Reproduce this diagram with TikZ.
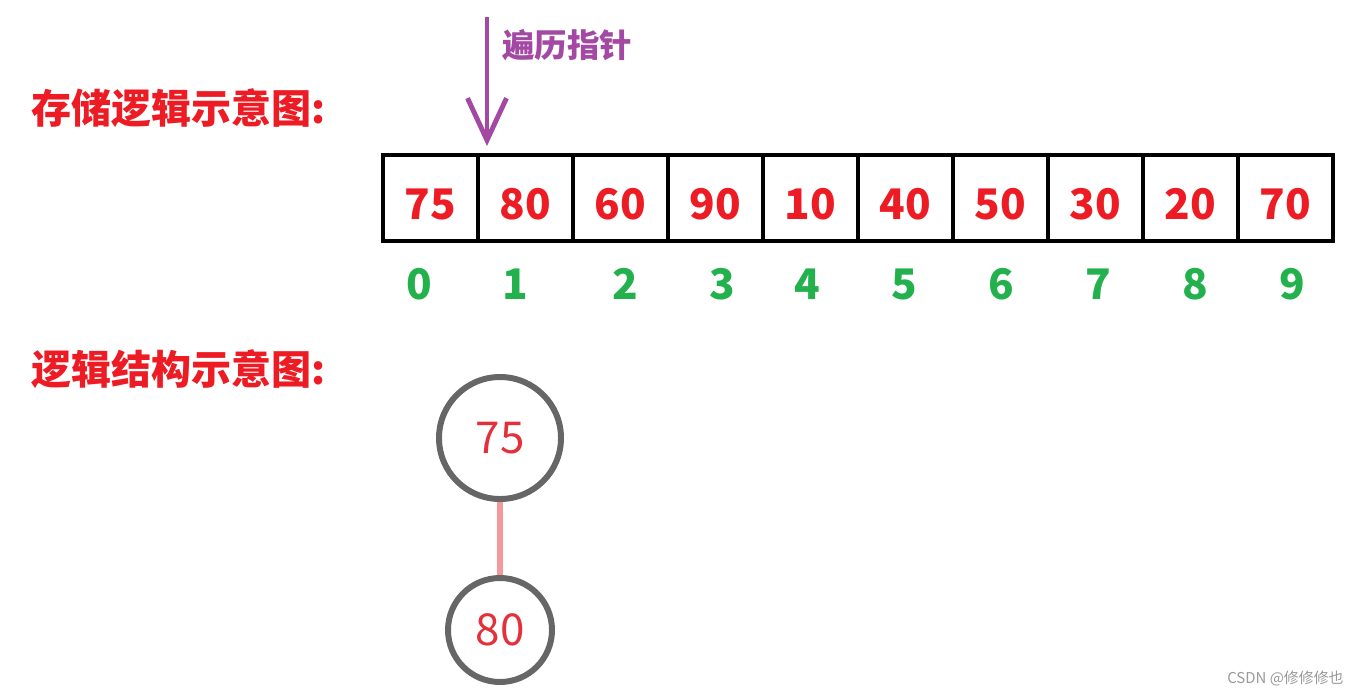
\documentclass[tikz,border=0pt]{standalone}
\usepackage{fontspec}
\setmainfont{Noto Sans CJK SC}
\usepackage{tikz}
\usetikzlibrary{positioning,arrows.meta}

\definecolor{hdred}{HTML}{ED1C24}
\definecolor{idxgreen}{HTML}{22B14C}
\definecolor{ptrpurple}{HTML}{A349A4}
\definecolor{ringgray}{HTML}{666666}
\definecolor{treered}{HTML}{E3303A}
\definecolor{edgepink}{HTML}{F4999B}

\begin{document}
\begin{tikzpicture}[>={Straight Barb[length=8.4mm, width=7.8mm]}, every node/.style={inner sep=0pt}]
      \useasboundingbox (0,0) rectangle (27.16,-13.94);
      \tikzset{
        cell/.style={draw, line width=2.8pt, minimum width=1.9cm, minimum height=1.72cm, text height=0.84cm, text depth=0pt, text=hdred, font=\fontsize{24}{28}\selectfont\bfseries},
        idx/.style={text=idxgreen, font=\fontsize{24}{28}\selectfont\bfseries},
        heading/.style={anchor=west, text=hdred, font=\fontsize{22.8}{26}\selectfont\bfseries},
        treenode/.style={draw=ringgray, circle, line width=3.4pt, fill=white, text=treered, font=\fontsize{25}{28}\selectfont}
      }

      \node[heading] (h1) at (0.62,-2.16) {存储逻辑示意图:};
      \node[heading] (h2) at (0.62,-7.38) {逻辑结构示意图:};

      \node[cell] (c0) at (8.61,-3.96) {75};
      \node[cell] (c1) at (10.51,-3.96) {80};
      \node[cell] (c2) at (12.41,-3.96) {60};
      \node[cell] (c3) at (14.31,-3.96) {90};
      \node[cell] (c4) at (16.21,-3.96) {10};
      \node[cell] (c5) at (18.11,-3.96) {40};
      \node[cell] (c6) at (20.01,-3.96) {50};
      \node[cell] (c7) at (21.91,-3.96) {30};
      \node[cell] (c8) at (23.81,-3.96) {20};
      \node[cell] (c9) at (25.71,-3.96) {70};

      \node[idx] (i0) at (8.38,-5.68) {0};
      \node[idx] (i1) at (10.30,-5.68) {1};
      \node[idx] (i2) at (12.50,-5.68) {2};
      \node[idx] (i3) at (14.44,-5.68) {3};
      \node[idx] (i4) at (16.14,-5.68) {4};
      \node[idx] (i5) at (18.08,-5.68) {5};
      \node[idx] (i6) at (20.02,-5.68) {6};
      \node[idx] (i7) at (21.96,-5.68) {7};
      \node[idx] (i8) at (23.90,-5.68) {8};
      \node[idx] (i9) at (25.84,-5.68) {9};

      % traversal pointer
      \coordinate (ptrtop) at (9.74,-0.34);
      \coordinate (ptrtip) at (9.74,-2.92);
      \draw[->, ptrpurple, line width=2.8pt] (ptrtop) -- (ptrtip);
      \node[text=ptrpurple, font=\fontsize{18.5}{21}\selectfont\bfseries, anchor=west] (ptrlbl) at (10.04,-0.9) {遍历指针};

      % tree
      \node[treenode, minimum size=2.44cm] (t1) at (10.0,-8.76) {75};
      \node[treenode, minimum size=2.08cm] (t2) at (10.0,-12.6) {80};
      \draw[edgepink, line width=3.4pt] (t1) -- (t2);

      \node[text=gray!80, font=\fontsize{8.5}{10}\selectfont, anchor=east] (mark) at (26.88,-13.58) {CSDN @修修修也};
    \end{tikzpicture}
\end{document}
